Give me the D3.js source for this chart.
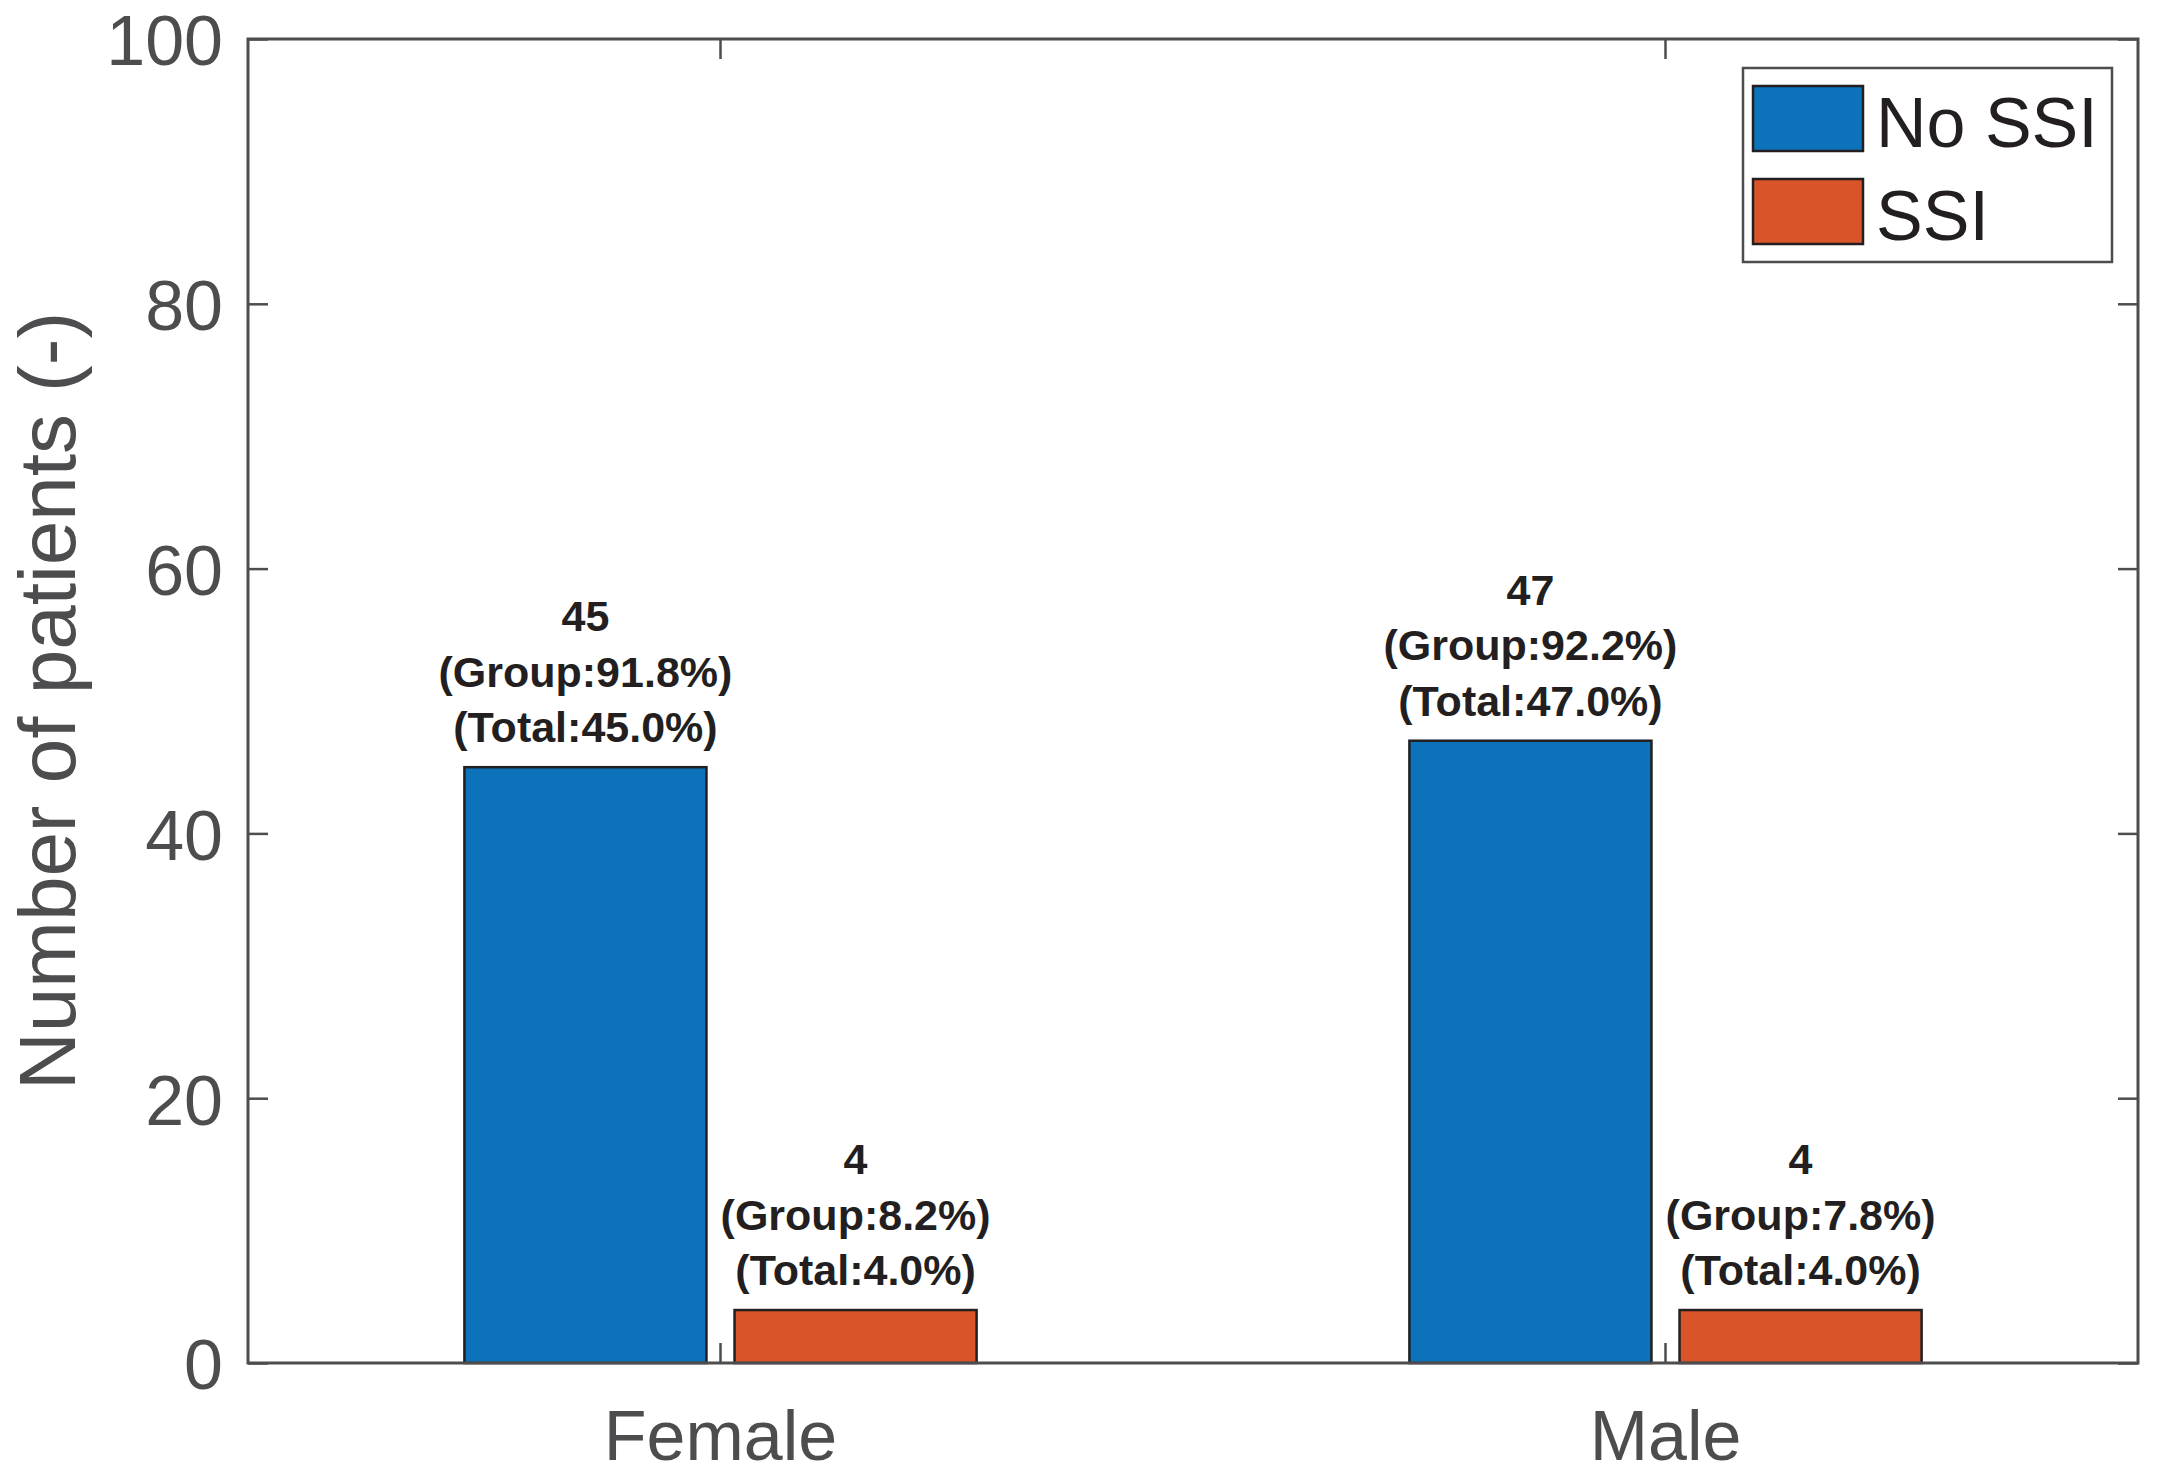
<!DOCTYPE html>
<html>
<head>
<meta charset="utf-8">
<script src="https://cdn.jsdelivr.net/npm/d3@7"></script>
<style>
  html, body { margin: 0; padding: 0; background: #fff; }
  svg { display: block; }
</style>
</head>
<body>
<div id="chart"></div>
<script>
const categories = ["Female", "Male"];
const seriesNames = ["No SSI", "SSI"];
const noSsiCounts = [45, 47];
const ssiCounts = [4, 4];
const groupPercents = [[91.8, 8.2], [92.2, 7.8]];
const totalPercents = [[45.0, 4.0], [47.0, 4.0]];
const yTicks = [0, 20, 40, 60, 80, 100];

const width = 2158;
const height = 1476;
const margin = { top: 39, right: 20, bottom: 113, left: 248 };
const colors = { "No SSI": "#0c72ba", "SSI": "#d95428" };
const axisColor = "#4d4d4f";
const inkColor = "#231f20";
const font = "'Liberation Sans', Arial, sans-serif";

const svg = d3.select("#chart")
  .append("svg")
  .attr("width", width)
  .attr("height", height)
  .attr("viewBox", [0, 0, width, height]);

const x0 = d3.scaleBand()
  .domain(categories)
  .range([margin.left, width - margin.right])
  .paddingInner(0)
  .paddingOuter(0);

const groupWidth = x0.bandwidth() * 0.542;
const x1 = d3.scaleBand()
  .domain(seriesNames)
  .range([0, groupWidth])
  .paddingInner(0.104);

const y = d3.scaleLinear()
  .domain([0, 100])
  .range([height - margin.bottom, margin.top]);

const rows = categories.map((c, i) => ({
  category: c,
  values: [
    { series: "No SSI", value: noSsiCounts[i], group: groupPercents[i][0], total: totalPercents[i][0] },
    { series: "SSI", value: ssiCounts[i], group: groupPercents[i][1], total: totalPercents[i][1] },
  ],
}));

// bars
const groups = svg.append("g")
  .selectAll("g")
  .data(rows)
  .join("g")
  .attr("transform", (d) => `translate(${x0(d.category) + x0.bandwidth() / 2 - groupWidth / 2},0)`);

groups.selectAll("rect")
  .data((d) => d.values)
  .join("rect")
  .attr("x", (d) => x1(d.series))
  .attr("y", (d) => y(d.value))
  .attr("width", x1.bandwidth())
  .attr("height", (d) => y(0) - y(d.value))
  .attr("fill", (d) => colors[d.series])
  .attr("stroke", inkColor)
  .attr("stroke-width", 2.5);

// value labels
const labels = groups.selectAll("text")
  .data((d) => d.values)
  .join("text")
  .attr("text-anchor", "middle")
  .attr("font-family", font)
  .attr("font-weight", "bold")
  .attr("font-size", 43)
  .attr("fill", inkColor)
  .attr("transform", (d) => `translate(${x1(d.series) + x1.bandwidth() / 2},${y(d.value) - 25})`);

labels.each(function (d) {
  const lines = [
    `${d.value}`,
    `(Group:${d.group.toFixed(1)}%)`,
    `(Total:${d.total.toFixed(1)}%)`,
  ];
  d3.select(this)
    .selectAll("tspan")
    .data(lines)
    .join("tspan")
    .attr("x", 0)
    .attr("y", (_, i) => (i - 2) * 55.5)
    .text((t) => t);
});

// axes
const tickStyle = (g) => {
  g.select(".domain").remove();
  g.selectAll(".tick line").attr("stroke", axisColor).attr("stroke-width", 2.5);
  g.selectAll(".tick text")
    .attr("fill", axisColor)
    .attr("font-family", font)
    .attr("font-size", 70);
};

svg.append("g")
  .attr("transform", `translate(${margin.left},0)`)
  .call(d3.axisLeft(y).tickValues(yTicks).tickSize(-20).tickPadding(25))
  .call(tickStyle)
  .selectAll(".tick text")
  .attr("dy", "0.37em");

svg.append("g")
  .attr("transform", `translate(${width - margin.right},0)`)
  .call(d3.axisRight(y).tickValues(yTicks).tickSize(-20).tickFormat(""))
  .call(tickStyle);

svg.append("g")
  .attr("transform", `translate(0,${height - margin.bottom})`)
  .call(d3.axisBottom(x0).tickSize(-20).tickPadding(47))
  .call(tickStyle);

svg.append("g")
  .attr("transform", `translate(0,${margin.top})`)
  .call(d3.axisTop(x0).tickSize(-20).tickFormat(""))
  .call(tickStyle);

// axes box
svg.append("rect")
  .attr("x", margin.left)
  .attr("y", margin.top)
  .attr("width", width - margin.left - margin.right)
  .attr("height", height - margin.top - margin.bottom)
  .attr("fill", "none")
  .attr("stroke", axisColor)
  .attr("stroke-width", 3);

// y label
svg.append("text")
  .attr("transform", `translate(75,${(margin.top + height - margin.bottom) / 2}) rotate(-90)`)
  .attr("text-anchor", "middle")
  .attr("font-family", font)
  .attr("font-size", 80)
  .attr("fill", axisColor)
  .text("Number of patients (-)");

// legend
const legend = svg.append("g").attr("transform", "translate(1743,68)");

legend.append("rect")
  .attr("width", 369)
  .attr("height", 194)
  .attr("fill", "#fff")
  .attr("stroke", axisColor)
  .attr("stroke-width", 2.5);

const legendItems = legend.selectAll("g.item")
  .data(seriesNames)
  .join("g")
  .attr("class", "item")
  .attr("transform", (_, i) => `translate(10,${18 + i * 93})`);

legendItems.append("rect")
  .attr("width", 110)
  .attr("height", 65)
  .attr("fill", (d) => colors[d])
  .attr("stroke", inkColor)
  .attr("stroke-width", 2.5);

legendItems.append("text")
  .attr("x", 123)
  .attr("y", 61)
  .attr("font-family", font)
  .attr("font-size", 70)
  .attr("fill", inkColor)
  .text((d) => d);
</script>
</body>
</html>
